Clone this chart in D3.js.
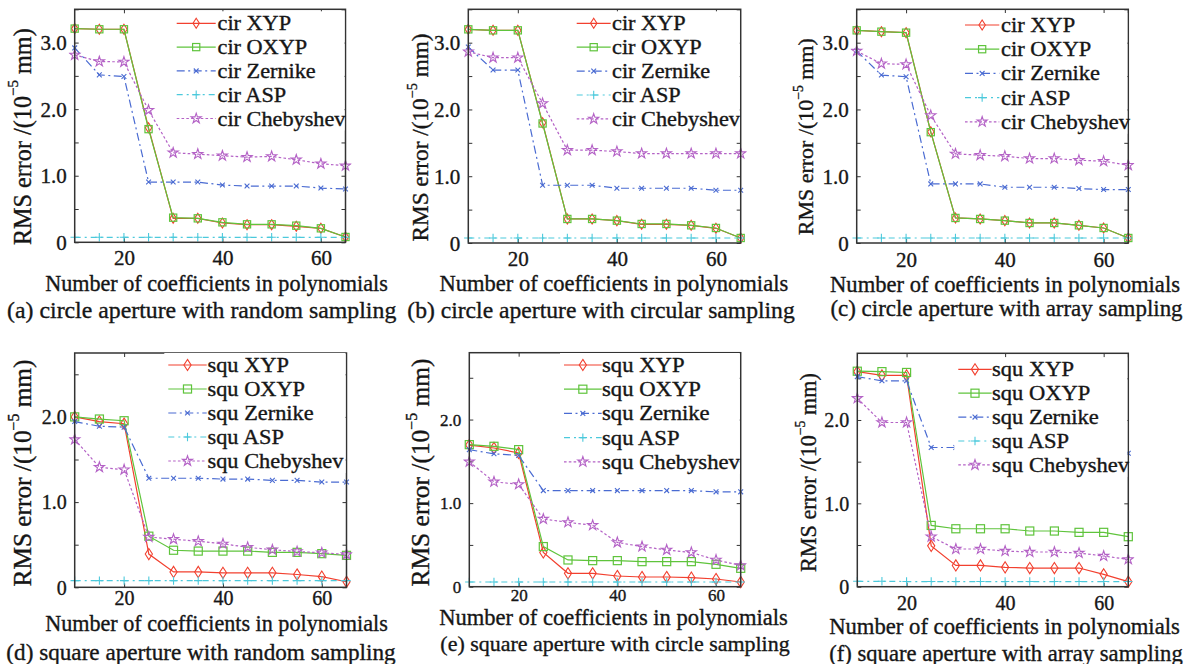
<!DOCTYPE html>
<html>
<head>
<meta charset="utf-8">
<script src="https://cdn.jsdelivr.net/npm/d3@7"></script>
<style>
  html, body { margin: 0; padding: 0; background: #fff; }
  svg { display: block; }
</style>
</head>
<body>
<script>
// Number of polynomial coefficients used in the fits
const coefficients = [10, 15, 20, 25, 30, 35, 40, 45, 50, 55, 60, 65];
const xTickValues = [20, 40, 60];

// (a) circle aperture, random sampling — RMS error in 1e-5 mm
const cirRandomXYP   = [3.21, 3.20, 3.20, 1.72, 0.36, 0.36, 0.29, 0.265, 0.265, 0.24, 0.21, 0.08];
const cirRandomOXYP  = [3.21, 3.20, 3.20, 1.70, 0.37, 0.36, 0.30, 0.27, 0.27, 0.25, 0.21, 0.08];
const cirRandomZern  = [2.92, 2.515, 2.49, 0.905, 0.905, 0.905, 0.86, 0.845, 0.845, 0.845, 0.815, 0.80];
const cirRandomASP   = [0.075, 0.075, 0.075, 0.075, 0.075, 0.075, 0.075, 0.075, 0.075, 0.075, 0.075, 0.075];
const cirRandomCheb  = [2.815, 2.715, 2.71, 1.985, 1.345, 1.325, 1.30, 1.28, 1.29, 1.24, 1.18, 1.15];

// (b) circle aperture, circular sampling
const cirCircXYP     = [3.20, 3.185, 3.185, 1.80, 0.36, 0.36, 0.335, 0.28, 0.28, 0.265, 0.22, 0.075];
const cirCircOXYP    = [3.20, 3.185, 3.185, 1.79, 0.36, 0.36, 0.335, 0.285, 0.285, 0.265, 0.225, 0.075];
const cirCircZern    = [2.935, 2.59, 2.59, 0.865, 0.865, 0.865, 0.82, 0.82, 0.82, 0.82, 0.79, 0.79];
const cirCircASP     = [0.075, 0.075, 0.075, 0.075, 0.075, 0.075, 0.075, 0.075, 0.075, 0.075, 0.075, 0.075];
const cirCircCheb    = [2.865, 2.775, 2.775, 2.09, 1.39, 1.39, 1.37, 1.34, 1.34, 1.34, 1.34, 1.34];

// (c) circle aperture, array sampling
const cirArrayXYP    = [3.185, 3.165, 3.15, 1.665, 0.375, 0.36, 0.335, 0.30, 0.30, 0.265, 0.225, 0.075];
const cirArrayOXYP   = [3.185, 3.165, 3.15, 1.66, 0.375, 0.36, 0.335, 0.30, 0.30, 0.265, 0.225, 0.075];
const cirArrayZern   = [2.875, 2.515, 2.49, 0.885, 0.885, 0.885, 0.835, 0.835, 0.835, 0.815, 0.80, 0.80];
const cirArrayASP    = [0.075, 0.075, 0.075, 0.075, 0.075, 0.075, 0.075, 0.075, 0.075, 0.075, 0.075, 0.075];
const cirArrayCheb   = [2.875, 2.685, 2.675, 1.91, 1.335, 1.315, 1.30, 1.265, 1.265, 1.24, 1.225, 1.165];

// (d) square aperture, random sampling
const squRandomXYP   = [2.00, 1.945, 1.92, 0.39, 0.18, 0.18, 0.17, 0.17, 0.17, 0.15, 0.125, 0.065];
const squRandomOXYP  = [2.00, 1.975, 1.955, 0.60, 0.435, 0.425, 0.425, 0.425, 0.41, 0.41, 0.395, 0.375];
const squRandomZern  = [1.945, 1.89, 1.88, 1.28, 1.28, 1.28, 1.27, 1.27, 1.255, 1.255, 1.235, 1.235];
const squRandomASP   = [0.078, 0.078, 0.078, 0.078, 0.078, 0.078, 0.078, 0.078, 0.078, 0.078, 0.078, 0.078];
const squRandomCheb  = [1.735, 1.41, 1.38, 0.59, 0.565, 0.54, 0.51, 0.47, 0.44, 0.42, 0.405, 0.385];

// (e) square aperture, circle sampling
const squCircXYP     = [1.695, 1.66, 1.60, 0.41, 0.16, 0.16, 0.128, 0.116, 0.116, 0.108, 0.092, 0.056];
const squCircOXYP    = [1.70, 1.68, 1.64, 0.48, 0.32, 0.312, 0.312, 0.30, 0.30, 0.30, 0.268, 0.22];
const squCircZern    = [1.64, 1.59, 1.57, 1.15, 1.15, 1.15, 1.15, 1.15, 1.15, 1.15, 1.135, 1.135];
const squCircASP     = [0.056, 0.056, 0.056, 0.056, 0.056, 0.056, 0.056, 0.056, 0.056, 0.056, 0.056, 0.056];
const squCircCheb    = [1.495, 1.255, 1.225, 0.81, 0.77, 0.735, 0.53, 0.48, 0.44, 0.41, 0.32, 0.255];

// (f) square aperture, array sampling
const squArrayXYP    = [2.58, 2.535, 2.535, 0.49, 0.255, 0.255, 0.232, 0.224, 0.224, 0.224, 0.148, 0.06];
const squArrayOXYP   = [2.585, 2.58, 2.57, 0.735, 0.695, 0.695, 0.695, 0.668, 0.668, 0.652, 0.652, 0.60];
const squArrayZern   = [2.52, 2.47, 2.47, 1.67, 1.67, 1.66, 1.65, 1.64, 1.63, 1.62, 1.61, 1.60];
const squArrayASP    = [0.065, 0.065, 0.062, 0.062, 0.062, 0.062, 0.062, 0.062, 0.062, 0.062, 0.062, 0.062];
const squArrayCheb   = [2.26, 1.97, 1.97, 0.60, 0.452, 0.452, 0.428, 0.416, 0.416, 0.404, 0.368, 0.328];

const seriesKeys = ["XYP", "OXYP", "Zernike", "ASP", "Chebyshev"];
const xLabelText = "Number of coefficients in polynomials";
const captions = [
  "(a) circle aperture with random sampling",
  "(b) circle aperture with circular sampling",
  "(c) circle aperture with array sampling",
  "(d) square aperture with random sampling",
  "(e) square aperture with circle sampling",
  "(f) square aperture with array sampling"
];
const prefixes = ["cir", "cir", "cir", "squ", "squ", "squ"];
const yMaxes = [3.5, 3.5, 3.5, 2.75, 2.8, 2.8];

const panelSeries = [
  [cirRandomXYP, cirRandomOXYP, cirRandomZern, cirRandomASP, cirRandomCheb],
  [cirCircXYP, cirCircOXYP, cirCircZern, cirCircASP, cirCircCheb],
  [cirArrayXYP, cirArrayOXYP, cirArrayZern, cirArrayASP, cirArrayCheb],
  [squRandomXYP, squRandomOXYP, squRandomZern, squRandomASP, squRandomCheb],
  [squCircXYP, squCircOXYP, squCircZern, squCircASP, squCircCheb],
  [squArrayXYP, squArrayOXYP, squArrayZern, squArrayASP, squArrayCheb]
];

// ---- layout (pixel geometry of each subplot) ----
// xt: centre offset of x tick labels below the frame, tf: tick label font size
const layout = [
  { l: 74.7, r: 345.5, t: 9.3, b: 242.3, xt: 16, tf: 21, yl: { x: 21.7, y: 136.7, w: 217 }, xl: { x: 216.5, y: 283.3, w: 343 }, cap: { x: 201.7, y: 310, w: 390 },
    lg: { x0: 176.7, x1: 215.7, tx: 217.5, y0: 23.3, dy: 23.8, w: 128 } },
  { l: 468.3, r: 740.7, t: 9.3, b: 243, xt: 16, tf: 21, yl: { x: 420, y: 137.5, w: 208 }, xl: { x: 613.8, y: 283.3, w: 349 }, cap: { x: 601, y: 310, w: 388 },
    lg: { x0: 576.7, x1: 610.7, tx: 612, y0: 23.3, dy: 23.9, w: 128 } },
  { l: 856.7, r: 1128.3, t: 9.3, b: 243, xt: 16.5, tf: 21, yl: { x: 805, y: 136.7, w: 197 }, xl: { x: 1005, y: 284, w: 350 }, cap: { x: 1006.5, y: 308.3, w: 353 },
    lg: { x0: 965, x1: 999.3, tx: 1001, y0: 25, dy: 24.2, w: 129 } },
  { l: 74.7, r: 346.5, t: 353, b: 587.3, xt: 11, tf: 20, yl: { x: 21.7, y: 473, w: 227 }, xl: { x: 216.5, y: 623.3, w: 343 }, cap: { x: 201, y: 651.7, w: 390 },
    lg: { x0: 168.3, x1: 206.7, tx: 207.5, y0: 365, dy: 24, w: 136 } },
  { l: 469.3, r: 740.7, t: 352.7, b: 586.7, xt: 8.8, tf: 17, yl: { x: 420, y: 472.5, w: 228 }, xl: { x: 613.5, y: 617.5, w: 349 }, cap: { x: 615, y: 643, w: 350 },
    lg: { x0: 564, x1: 601.7, tx: 602, y0: 365, dy: 24.2, w: 138 } },
  { l: 857.3, r: 1128.3, t: 353.3, b: 586.7, xt: 16.3, tf: 20, yl: { x: 808, y: 472.5, w: 199 }, xl: { x: 1004.5, y: 626, w: 351 }, cap: { x: 1006, y: 653, w: 354 },
    lg: { x0: 958.3, x1: 991.7, tx: 992, y0: 369.3, dy: 23.9, w: 137 } }
];

// ---- series styling ----
const styles = {
  XYP:       { color: "#f2402f", dash: null,          marker: "diamond" },
  OXYP:      { color: "#5fc43c", dash: null,          marker: "square" },
  Zernike:   { color: "#4a6bd2", dash: "8,3.5,2,3.5", marker: "cross" },
  ASP:       { color: "#4cc9dc", dash: "6,4,2,4",     marker: "plus" },
  Chebyshev: { color: "#b462c6", dash: "2.6,2.2",     marker: "star" }
};

const AX_FONT = "'Liberation Serif', 'Times New Roman', serif";
const TEXT_COLOR = "#161616";
const TEXT_STROKE = 0.35;

const svg = d3.select("body").append("svg")
  .attr("width", 1203).attr("height", 664)
  .attr("viewBox", "0 0 1203 664");

svg.append("rect").attr("width", 1203).attr("height", 664).attr("fill", "#fff");

function styleText(sel) {
  return sel.attr("font-family", AX_FONT).attr("fill", TEXT_COLOR)
    .attr("stroke", TEXT_COLOR).attr("stroke-width", TEXT_STROKE);
}

function drawMarker(g, type, color, big) {
  const s = big ? 1.12 : 1;
  if (type === "diamond") {
    g.append("path").attr("d", `M0,${-5 * s}L${3.2 * s},0L0,${5 * s}L${-3.2 * s},0Z`)
      .attr("fill", "none").attr("stroke", color).attr("stroke-width", 1.1);
  } else if (type === "square") {
    const h = 3.6 * s;
    g.append("rect").attr("x", -h).attr("y", -h).attr("width", 2 * h).attr("height", 2 * h)
      .attr("fill", "none").attr("stroke", color).attr("stroke-width", 1.2);
  } else if (type === "cross") {
    const h = 2.4;
    g.append("path").attr("d", `M${-h},${-h}L${h},${h}M${-h},${h}L${h},${-h}`)
      .attr("stroke", color).attr("stroke-width", 1.1);
  } else if (type === "plus") {
    const h = 4.2;
    g.append("path").attr("d", `M${-h},0L${h},0M0,${-h}L0,${h}`)
      .attr("stroke", color).attr("stroke-width", 1.1);
  } else if (type === "star") {
    g.append("path").attr("d", d3.symbol(d3.symbolStar, 32)())
      .attr("fill", "none").attr("stroke", color).attr("stroke-width", 1.1);
  }
}

// scale a text node's font size until it spans the given width
function fitWidth(sel, target, base) {
  sel.attr("font-size", base);
  const w = sel.node().getBBox().width;
  if (w > 0) sel.attr("font-size", base * target / w);
}

panelSeries.forEach((series, pi) => {
  const L = layout[pi];
  const big = pi >= 3;
  const x = d3.scaleLinear().domain([10, 65]).range([L.l, L.r]);
  const y = d3.scaleLinear().domain([0, yMaxes[pi]]).range([L.b, L.t]);
  const g = svg.append("g");

  const clipId = "clip" + pi;
  svg.append("clipPath").attr("id", clipId)
    .append("rect").attr("x", L.l - 6).attr("y", L.t).attr("width", L.r - L.l + 12).attr("height", L.b - L.t + 6);

  // ---- ticks (inward, on all four sides) ----
  const yTicks = d3.range(0, yMaxes[pi] + 1e-9, 0.5);
  const yFmt = v => (v === 0 ? "0" : (Math.abs(v - Math.round(v)) < 1e-9 ? v.toFixed(1) : ""));

  const axisLeft = d3.axisLeft(y).tickValues(yTicks).tickSize(-4).tickPadding(8).tickFormat(yFmt);
  const axisRight = d3.axisRight(y).tickValues(yTicks).tickSize(-4).tickFormat("");
  const axisBottom = d3.axisBottom(x).tickValues(xTickValues).tickSize(-4).tickPadding(L.xt).tickFormat(d3.format("d"));
  const axisTop = d3.axisTop(x).tickValues(xTickValues).tickSize(-4).tickFormat("");

  const gl = g.append("g").attr("transform", `translate(${L.l},0)`).call(axisLeft);
  const gr = g.append("g").attr("transform", `translate(${L.r},0)`).call(axisRight);
  const gb = g.append("g").attr("transform", `translate(0,${L.b})`).call(axisBottom);
  const gt = g.append("g").attr("transform", `translate(0,${L.t})`).call(axisTop);
  [gl, gr, gb, gt].forEach(a => {
    a.select(".domain").remove();
    a.selectAll(".tick line").attr("stroke", "#333").attr("stroke-width", 1);
    styleText(a.selectAll(".tick text")).attr("font-size", L.tf);
  });
  gl.selectAll(".tick text").attr("dy", "0.34em");
  gb.selectAll(".tick text").attr("dy", "0.34em");

  // ---- series ----
  const plot = g.append("g").attr("clip-path", `url(#${clipId})`);
  const line = d3.line().x((d, i) => x(coefficients[i])).y(d => y(d));
  series.forEach((vals, si) => {
    const st = styles[seriesKeys[si]];
    plot.append("path").datum(vals)
      .attr("d", line)
      .attr("fill", "none")
      .attr("stroke", st.color)
      .attr("stroke-width", 1.2)
      .attr("stroke-dasharray", st.dash);
    vals.forEach((v, i) => {
      const mg = plot.append("g").attr("transform", `translate(${x(coefficients[i])},${y(v)})`);
      drawMarker(mg, st.marker, st.color, big);
    });
  });

  // ---- frame ----
  g.append("rect").attr("x", L.l).attr("y", L.t)
    .attr("width", L.r - L.l).attr("height", L.b - L.t)
    .attr("fill", "none").attr("stroke", "#333").attr("stroke-width", 1.5);

  // ---- legend (opaque, borderless) ----
  const lg = L.lg;
  const nRows = seriesKeys.length;
  g.append("rect")
    .attr("x", lg.x0 - 4).attr("y", lg.y0 - 12)
    .attr("width", L.r - 1 - (lg.x0 - 4)).attr("height", lg.dy * (nRows - 1) + 24)
    .attr("fill", "#fff");
  const LG_SIZE = 20;
  const probe = styleText(g.append("text")).attr("font-size", LG_SIZE)
    .text(`${prefixes[pi]} ${seriesKeys[nRows - 1]}`);
  const stretch = lg.w / probe.node().getBBox().width;
  probe.remove();
  seriesKeys.forEach((k, si) => {
    const st = styles[k];
    const ry = lg.y0 + si * lg.dy;
    g.append("line").attr("x1", lg.x0).attr("x2", lg.x1).attr("y1", ry).attr("y2", ry)
      .attr("stroke", st.color).attr("stroke-width", 1.2).attr("stroke-dasharray", st.dash);
    const mg = g.append("g").attr("transform", `translate(${(lg.x0 + lg.x1) / 2},${ry})`);
    drawMarker(mg, st.marker, st.color, big);
    styleText(g.append("text"))
      .attr("transform", `translate(${lg.tx},${ry}) scale(${stretch},1)`)
      .attr("dy", "0.35em")
      .attr("font-size", LG_SIZE)
      .text(`${prefixes[pi]} ${k}`);
  });

  // ---- y label ----
  const yl = styleText(g.append("text"))
    .attr("text-anchor", "middle").attr("dominant-baseline", "central");
  yl.append("tspan").text("RMS error /(10");
  yl.append("tspan").attr("font-size", "62%").attr("dy", "-0.55em").text("\u22125");
  yl.append("tspan").attr("dy", "0.34em").text(" mm)");
  fitWidth(yl, L.yl.w, 22);
  yl.attr("transform", `translate(${L.yl.x},${L.yl.y}) rotate(-90)`);

  // ---- x label and caption ----
  const xl = styleText(g.append("text")).attr("x", L.xl.x).attr("y", L.xl.y)
    .attr("text-anchor", "middle").attr("dominant-baseline", "central")
    .text(xLabelText);
  fitWidth(xl, L.xl.w, 21);

  const cp = styleText(g.append("text")).attr("x", L.cap.x).attr("y", L.cap.y)
    .attr("text-anchor", "middle").attr("dominant-baseline", "central")
    .text(captions[pi]);
  fitWidth(cp, L.cap.w, 21);
});
</script>
</body>
</html>
